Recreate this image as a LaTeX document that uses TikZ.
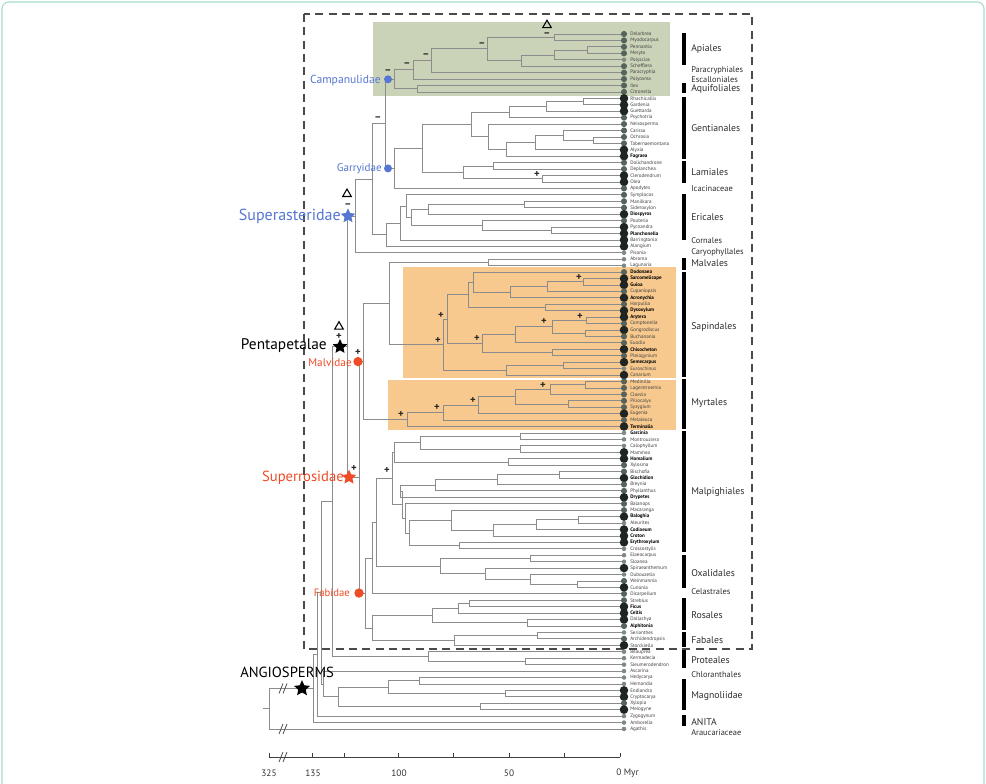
\documentclass[tikz,border=0pt]{standalone}
\usepackage{fontspec}
\setmainfont{PT Sans}
\usetikzlibrary{calc,shapes.geometric}
\definecolor{brc}{HTML}{8C8C8C}
\definecolor{greenbox}{HTML}{CAD3B7}
\definecolor{orangebox}{HTML}{F7C98F}
\definecolor{cblue}{HTML}{5577D2}
\definecolor{cred}{HTML}{EE4B27}
\definecolor{dotS}{HTML}{7E8B83}
\definecolor{dotM}{HTML}{56635B}
\definecolor{dotL}{HTML}{1F2522}
\definecolor{tipgray}{HTML}{404040}
\definecolor{framec}{HTML}{A5DCCF}
\definecolor{dashc}{HTML}{4A4A4A}
\definecolor{ordc}{HTML}{2E2E2E}

\newcommand\inode[4]{%
  \path let \p1=(#3), \p2=(#4) in coordinate (#1) at ({#2*0.75pt},{0.5*\y1+0.5*\y2});%
  \draw[br] (#1) |- (#3) (#1) |- (#4);}
\newcommand\brkmark[1]{%
  \draw[brkst] ($(#1)+(-4,5)$) -- ($(#1)+(0,-5)$) ($(#1)+(0,5)$) -- ($(#1)+(4,-5)$);}

\tikzset{
  br/.style={draw=brc, line width=0.6pt},
  brkst/.style={draw=black!70, line width=0.6pt},
  axisst/.style={draw=black!75, line width=0.6pt},
  tipS/.style={circle, inner sep=0pt, minimum size=3.4pt, fill=dotS},
  tipM/.style={circle, inner sep=0pt, minimum size=4.6pt, fill=dotM},
  tipL/.style={circle, inner sep=0pt, minimum size=6.4pt, fill=dotL},
  tl/.style={anchor=west, inner sep=0pt, font=\fontsize{3.8}{4}\selectfont, text=tipgray},
  tlb/.style={anchor=west, inner sep=0pt, font=\fontsize{3.8}{4}\selectfont\bfseries, text=black},
  ordbig/.style={anchor=west, inner sep=0pt, font=\fontsize{7.3}{8}\selectfont, text=ordc},
  ordsm/.style={anchor=west, inner sep=0pt, font=\fontsize{6.3}{7}\selectfont, text=ordc},
  barst/.style={line width=2.4pt, draw=black},
  pm/.style={inner sep=0pt, font=\fontsize{8}{8}\selectfont\bfseries, text=black!85},
  delt/.style={regular polygon, regular polygon sides=3, draw=black, line width=0.8pt, minimum size=7.5pt, inner sep=0pt},
  cladeb/.style={anchor=east, inner sep=0pt, text=cblue},
  clader/.style={anchor=east, inner sep=0pt, text=cred},
  dotb/.style={circle, fill=cblue, minimum size=6pt, inner sep=0pt},
  dotr/.style={circle, fill=cred, minimum size=7pt, inner sep=0pt},
  starst/.style={star, star points=5, star point ratio=2.1, inner sep=0pt, minimum size=11.5pt},
  axlab/.style={inner sep=0pt, font=\fontsize{7}{8}\selectfont, text=black!80},
}

\def\tiplist{0/tipM/Delarbrea/tl,1/tipM/Myodocarpus/tl,2/tipM/Pennantia/tl,3/tipM/Meryta/tl,%
4/tipS/Polyscias/tl,5/tipM/Schefflera/tl,6/tipM/Paracryphia/tl,7/tipM/Polyosma/tl,8/tipM/Ilex/tl,%
9/tipM/Citronella/tl,10/tipL/Rhachicallis/tl,11/tipL/Gardenia/tl,12/tipL/Guettarda/tl,%
13/tipM/Psychotria/tl,14/tipM/Neisosperma/tl,15/tipM/Carissa/tl,16/tipM/Ochrosia/tl,%
17/tipM/Tabernaemontana/tl,18/tipL/Alyxia/tl,19/tipL/Fagraea/tlb,20/tipM/Dolichandrone/tl,%
21/tipM/Deplanchea/tl,22/tipL/Clerodendrum/tl,23/tipL/Olea/tl,24/tipM/Apodytes/tl,%
25/tipM/Symplocos/tl,26/tipM/Manilkara/tl,27/tipM/Sideroxylon/tl,28/tipL/Diospyros/tlb,%
29/tipM/Pouteria/tl,30/tipL/Pycnandra/tl,31/tipL/Planchonella/tlb,32/tipL/Barringtonia/tl,%
33/tipL/Alangium/tl,34/tipS/Pisonia/tl,35/tipS/Abroma/tl,36/tipS/Lagunaria/tl,%
37/tipM/Dodonaea/tlb,38/tipL/Sarcomelicope/tlb,39/tipL/Guioa/tlb,40/tipM/Cupaniopsis/tl,%
41/tipL/Acronychia/tlb,42/tipM/Harpullia/tl,43/tipL/Dysoxylum/tlb,44/tipL/Arytera/tlb,%
45/tipM/Comptonella/tl,46/tipL/Gongrodiscus/tl,47/tipM/Buchanania/tl,48/tipM/Euodia/tl,%
49/tipL/Chisocheton/tlb,50/tipM/Pleiogynium/tl,51/tipL/Semecarpus/tlb,52/tipS/Euroschinus/tl,%
53/tipL/Canarium/tl,54/tipM/Medinilla/tl,55/tipM/Lagerstroemia/tl,56/tipM/Cloezia/tl,%
57/tipM/Piliocalyx/tl,58/tipM/Syzygium/tl,59/tipL/Eugenia/tl,60/tipM/Melaleuca/tl,%
61/tipL/Terminalia/tlb,62/tipS/Garcinia/tlb,63/tipS/Montrouziera/tl,64/tipS/Calophyllum/tl,%
65/tipL/Mammea/tl,66/tipL/Homalium/tlb,67/tipM/Xylosma/tl,68/tipM/Bischofia/tl,%
69/tipL/Glochidion/tlb,70/tipM/Breynia/tl,71/tipM/Phyllanthus/tl,72/tipL/Drypetes/tlb,%
73/tipM/Balanops/tl,74/tipM/Macaranga/tl,75/tipL/Baloghia/tlb,76/tipS/Aleurites/tl,%
77/tipL/Codiaeum/tlb,78/tipL/Croton/tlb,79/tipL/Erythroxylum/tlb,80/tipS/Crossostylis/tl,%
81/tipS/Elaeocarpus/tl,82/tipS/Sloanea/tl,83/tipL/Spiraeanthemum/tl,84/tipS/Dubouzetia/tl,%
85/tipM/Weinmannia/tl,86/tipL/Cunonia/tl,87/tipM/Dicarpellum/tl,88/tipM/Streblus/tl,%
89/tipL/Ficus/tlb,90/tipL/Celtis/tlb,91/tipL/Dallachya/tl,92/tipM/Alphitonia/tlb,%
93/tipS/Serianthes/tl,94/tipM/Archidendropsis/tl,95/tipL/Storckiella/tl,96/tipS/Beauprea/tl,%
97/tipS/Kermadecia/tl,98/tipS/Sleumerodendron/tl,99/tipS/Ascarina/tl,100/tipS/Hedycarya/tl,%
101/tipS/Hernandia/tl,102/tipL/Endiandra/tl,103/tipL/Cryptocarya/tl,104/tipM/Xylopia/tl,%
105/tipL/Meiogyne/tl,106/tipS/Zygogynum/tl,107/tipS/Amborella/tl,108/tipS/Agathis/tl}

\begin{document}
\begin{tikzpicture}[x=0.75pt,y=-0.75pt]
\useasboundingbox (0,0) rectangle (986,784);
\fill[white] (0,0) rectangle (986,784);
\draw[framec, line width=0.8pt, rounded corners=5pt] (2,2) rectangle (984,800);

% highlight boxes
\fill[greenbox] (373,22) rectangle (670,96);
\fill[orangebox] (403,267) rectangle (676,378);
\fill[orangebox] (388,380) rectangle (676,430);

% tips (coordinates)
\foreach \i/\s/\n/\f in \tiplist {\coordinate (t\i) at (624,{34+6.435*\i});}

% Campanulids
\inode{n1}{587}{t2}{t3}
\inode{n2}{554}{n1}{t4}
\inode{n3}{521}{n2}{t5}
\inode{n4}{554}{t0}{t1}
\inode{n5}{487}{n4}{n3}
\inode{n6}{431}{n5}{t6}
\inode{n7}{413}{n6}{t7}
\inode{n8}{417}{t8}{t9}
\inode{n9}{394}{n7}{n8}
% Lamiids
\inode{a1}{583}{t10}{t11}
\inode{a2}{546}{a1}{t12}
\inode{a3}{509}{a2}{t13}
\inode{b1}{593}{t16}{t17}
\inode{b2}{563}{t15}{b1}
\inode{b3}{535}{b2}{t18}
\inode{b4}{506}{b3}{t19}
\inode{b5}{488}{t14}{b4}
\inode{a4}{471}{a3}{b5}
\inode{c1}{493}{t20}{t21}
\inode{c2}{542}{t22}{t23}
\inode{c3}{463}{c1}{c2}
\inode{d1}{422}{a4}{c3}
\inode{L}{394}{d1}{t24}
\inode{Eu}{385}{n9}{L}
% Ericales, Cornales
\inode{e1}{524}{t26}{t27}
\inode{e2}{428}{e1}{t28}
\inode{e5}{551}{t30}{t31}
\inode{e4}{482}{t29}{e5}
\inode{e6}{411}{e2}{e4}
\inode{e7}{406}{t25}{e6}
\inode{e8}{400}{e7}{t32}
\inode{e9}{386}{e8}{t33}
\inode{As}{372}{Eu}{e9}
\inode{SA}{355}{As}{t34}
% Malvales, Sapindales
\inode{mv1}{488}{t35}{t36}
\inode{s1}{583}{t38}{t39}
\inode{s2}{547}{s1}{t40}
\inode{s3}{510}{s2}{t41}
\inode{s4}{473}{t37}{s3}
\inode{s6}{545}{t42}{t43}
\inode{s7}{468}{s4}{s6}
\inode{s11}{586}{t44}{t45}
\inode{s13}{585}{t46}{t47}
\inode{s12}{552}{s11}{s13}
\inode{s14}{515}{s12}{t48}
\inode{s15}{552}{t49}{t50}
\inode{s16}{482}{s14}{s15}
\inode{s8}{563}{t51}{t52}
\inode{s9}{506}{s8}{t53}
\inode{s17}{447}{s7}{s16}
\inode{s18}{443}{s17}{s9}
\inode{msa}{389}{mv1}{s18}
% Myrtales
\inode{my1}{585}{t54}{t55}
\inode{my2}{550}{my1}{t56}
\inode{my3}{568}{t57}{t58}
\inode{my4}{515}{my2}{my3}
\inode{my5}{478}{my4}{t59}
\inode{my6}{443}{my5}{t60}
\inode{my7}{407}{my6}{t61}
\inode{Mv}{363}{msa}{my7}
% Malpighiales
\inode{mp1}{520}{t62}{t63}
\inode{mp2}{520}{t64}{t65}
\inode{mp3}{420}{mp1}{mp2}
\inode{mp4}{508}{t66}{t67}
\inode{mp5}{559}{t68}{t69}
\inode{mp6}{497}{mp5}{t70}
\inode{mp7}{435}{mp6}{t71}
\inode{mp8}{400}{mp7}{t72}
\inode{mp9}{578}{t75}{t76}
\inode{mp10}{536}{mp9}{t77}
\inode{mp11}{493}{mp10}{t78}
\inode{mp12}{451}{t74}{mp11}
\inode{mp13}{459}{t79}{t80}
\inode{mp14}{409}{mp12}{mp13}
\inode{mp15}{405}{t73}{mp14}
\inode{mp16}{402}{mp8}{mp15}
\inode{mp17}{394}{mp3}{mp4}
\inode{mp18}{392}{mp17}{mp16}
% Oxalidales, Celastrales
\inode{ox1}{530}{t81}{t82}
\inode{ox2}{577}{t85}{t86}
\inode{ox3}{530}{t84}{ox2}
\inode{ox4}{485}{t83}{ox3}
\inode{ox}{440}{ox1}{ox4}
\inode{f3}{376}{mp18}{ox}
\inode{f2}{372}{f3}{t87}
% Rosales, Fabales
\inode{ro1}{469}{t88}{t89}
\inode{ro2}{458}{ro1}{t90}
\inode{ro3}{527}{t91}{t92}
\inode{ro}{432}{ro2}{ro3}
\inode{fa1}{537}{t93}{t94}
\inode{fa}{454}{fa1}{t95}
\inode{rf}{372}{ro}{fa}
\inode{Fb}{365}{f2}{rf}
\inode{SR}{359}{Mv}{Fb}
\inode{P}{347}{SA}{SR}
% Proteales
\inode{pr1}{525}{t97}{t98}
\inode{pr}{428}{t96}{pr1}
\inode{EU}{332}{P}{pr}
% Magnoliids, ANITA, root
\inode{m1a}{419}{t100}{t101}
\inode{m1b}{505}{t102}{t103}
\inode{m1}{388}{m1a}{m1b}
\inode{m2}{480}{t104}{t105}
\inode{M}{338}{m1}{m2}
\inode{MC}{323}{t99}{M}
\inode{MS}{321}{EU}{MC}
\inode{A1}{317}{MS}{t106}
\inode{A0}{313}{A1}{t107}
\inode{R}{269}{A0}{t108}
\coordinate (Rst) at ($(R)+(-6,0)$);
\draw[br] (R) -- (Rst);

% break marks
\coordinate (bk1) at ($(R|-A0)+(14,0)$);
\coordinate (bk2) at ($(R|-t108)+(14,0)$);
\coordinate (bk3) at (283,757);
\brkmark{bk1}
\brkmark{bk2}
\brkmark{bk3}

% dashed frame
\draw[dashc, line width=0.9pt, dash pattern=on 6pt off 4pt] (304,14) rectangle (752,649);

% tip dots and names
\foreach \i/\s/\n/\f in \tiplist {%
  \node[\s] (d\i) at (t\i) {};
  \node[\f] (l\i) at (630,{34+6.435*\i}) {\n};
}

% order bars
\draw[barst] (684,33) -- (684,65);
\draw[barst] (684,83) -- (684,93);
\draw[barst] (684,97) -- (684,159.5);
\draw[barst] (684,161) -- (684,183);
\draw[barst] (684,194) -- (684,240);
\draw[barst] (684,258) -- (684,270);
\draw[barst] (684,272) -- (684,377);
\draw[barst] (684,379) -- (684,429);
\draw[barst] (684,431) -- (684,552);
\draw[barst] (684,555) -- (684,588);
\draw[barst] (684,598) -- (684,630);
\draw[barst] (684,632) -- (684,647);
\draw[barst] (684,650) -- (684,668);
\draw[barst] (684,679) -- (684,710);
\draw[barst] (684,715) -- (684,726);

% order labels
\node[ordbig] (o1) at (691,49) {Apiales};
\node[ordsm] (o2) at (691,70) {Paracryphiales};
\node[ordsm] (o3) at (691,80) {Escalloniales};
\node[ordbig] (o4) at (691,89) {Aquifoliales};
\node[ordbig] (o5) at (691,128) {Gentianales};
\node[ordbig] (o6) at (691,172) {Lamiales};
\node[ordsm] (o7) at (691,189) {Icacinaceae};
\node[ordbig] (o8) at (691,217) {Ericales};
\node[ordsm] (o9) at (691,241) {Cornales};
\node[ordsm] (o10) at (691,252) {Caryophyllales};
\node[ordbig] (o11) at (691,263) {Malvales};
\node[ordbig] (o12) at (691,327) {Sapindales};
\node[ordbig] (o13) at (691,403) {Myrtales};
\node[ordbig] (o14) at (691,492) {Malpighiales};
\node[ordbig] (o15) at (691,573) {Oxalidales};
\node[ordsm] (o16) at (691,592) {Celastrales};
\node[ordbig] (o17) at (691,615) {Rosales};
\node[ordbig] (o18) at (691,640) {Fabales};
\node[ordbig] (o19) at (691,660) {Proteales};
\node[ordsm] (o20) at (691,675) {Chloranthales};
\node[ordbig] (o21) at (691,696) {Magnoliidae};
\node[ordbig] (o22) at (691,722) {ANITA};
\node[ordsm] (o23) at (691,733) {Araucariaceae};

% support markers
\node[delt] (dl1) at ($(n4)+(-7,-12)$) {};
\node[pm] (m1) at ($(n4)+(-7,-3)$) {–};
\node[pm] (m2) at ($(n5)+(-5,-4)$) {–};
\node[pm] (m3) at ($(n6)+(-5,-5)$) {–};
\node[pm] (m4) at ($(n7)+(-6,-5)$) {–};
\node[pm] (m5) at ($(n9)+(-6,-8)$) {–};
\node[pm] (m6) at ($(Eu)+(-7,-5)$) {–};
\node[pm] (m7) at ($(c2)+(-5,-4)$) {+};
\node[delt] (dl2) at ($(SA)+(-8,-22)$) {};
\node[pm] (m8) at ($(SA)+(-7,-10)$) {–};
\node[delt] (dl3) at ($(P)+(-8,-20)$) {};
\node[pm] (m9) at ($(P)+(-8,-10)$) {+};
\node[pm] (m10) at ($(Mv)+(-5,-9)$) {+};
\node[pm] (m11) at ($(SR)+(-5,-9)$) {+};
\node[pm] (m12) at ($(s1)+(-4,-4)$) {+};
\node[pm] (m13) at ($(s11)+(-6,-4)$) {+};
\node[pm] (m14) at ($(s12)+(-8,-5)$) {+};
\node[pm] (m15) at ($(s16)+(-5,-5)$) {+};
\node[pm] (m16) at ($(s17)+(-6,-4)$) {+};
\node[pm] (m17) at ($(s18)+(-5,-4)$) {+};
\node[pm] (m18) at ($(my2)+(-7,-4)$) {+};
\node[pm] (m19) at ($(my5)+(-5,-5)$) {+};
\node[pm] (m20) at ($(my6)+(-6,-5)$) {+};
\node[pm] (m21) at ($(my7)+(-6,-5)$) {+};
\node[pm] (m22) at ($(mp18)+(-5,-8)$) {+};

% clade markers
\node[dotb] (cdot) at ($(n9)+(-6,0)$) {};
\node[dotb] (gdot) at ($(L)+(-6,0)$) {};
\node[starst, fill=cblue] (sastar) at ($(SA)+(-7,0)$) {};
\node[starst, fill=black] (pstar) at ($(P)+(-7,0)$) {};
\node[dotr] (mdot) at ($(Mv)+(-5,0)$) {};
\node[starst, fill=cred] (srstar) at ($(SR)+(-10,0)$) {};
\node[dotr] (fdot) at ($(Fb)+(-6,0)$) {};
\node[starst, fill=black, minimum size=12.5pt] (astar) at ($(A0)+(-11,0)$) {};

% clade names
\node[cladeb, font=\fontsize{8.7}{9}\selectfont] (campn) at (381,81) {Campanulidae};
\node[cladeb, font=\fontsize{8.3}{9}\selectfont] (garn) at (382,169) {Garryidae};
\node[cladeb, font=\fontsize{12}{13}\selectfont] (supan) at (341,216) {Superasteridae};
\node[anchor=east, inner sep=0pt, font=\fontsize{11.5}{12}\selectfont] (pentn) at (327,346) {Pentapetalae};
\node[clader, font=\fontsize{8.4}{9}\selectfont] (malvn) at (352,363) {Malvidae};
\node[clader, font=\fontsize{11}{12}\selectfont] (suprn) at (344,478) {Superrosidae};
\node[clader, font=\fontsize{8}{9}\selectfont] (fabn) at (350,593) {Fabidae};
\node[anchor=west, inner sep=0pt, font=\fontsize{11}{12}\selectfont] (angn) at (240,672) {ANGIOSPERMS};

% time axis
\coordinate (ax0) at (269,757);
\coordinate (ax1) at (620,757);
\draw[axisst] (ax0) -- (ax1);
\foreach \x in {269,312,344,398,453,509,564,620} {\draw[axisst] (\x,757) -- (\x,753);}
\node[axlab] (x325) at (269,773) {325};
\node[axlab] (x135) at (313,773) {135};
\node[axlab] (x100) at (399,773) {100};
\node[axlab] (x50) at (509,773) {50};
\node[axlab, anchor=west] (x0) at (616,773) {0 Myr};
\end{tikzpicture}
\end{document}
